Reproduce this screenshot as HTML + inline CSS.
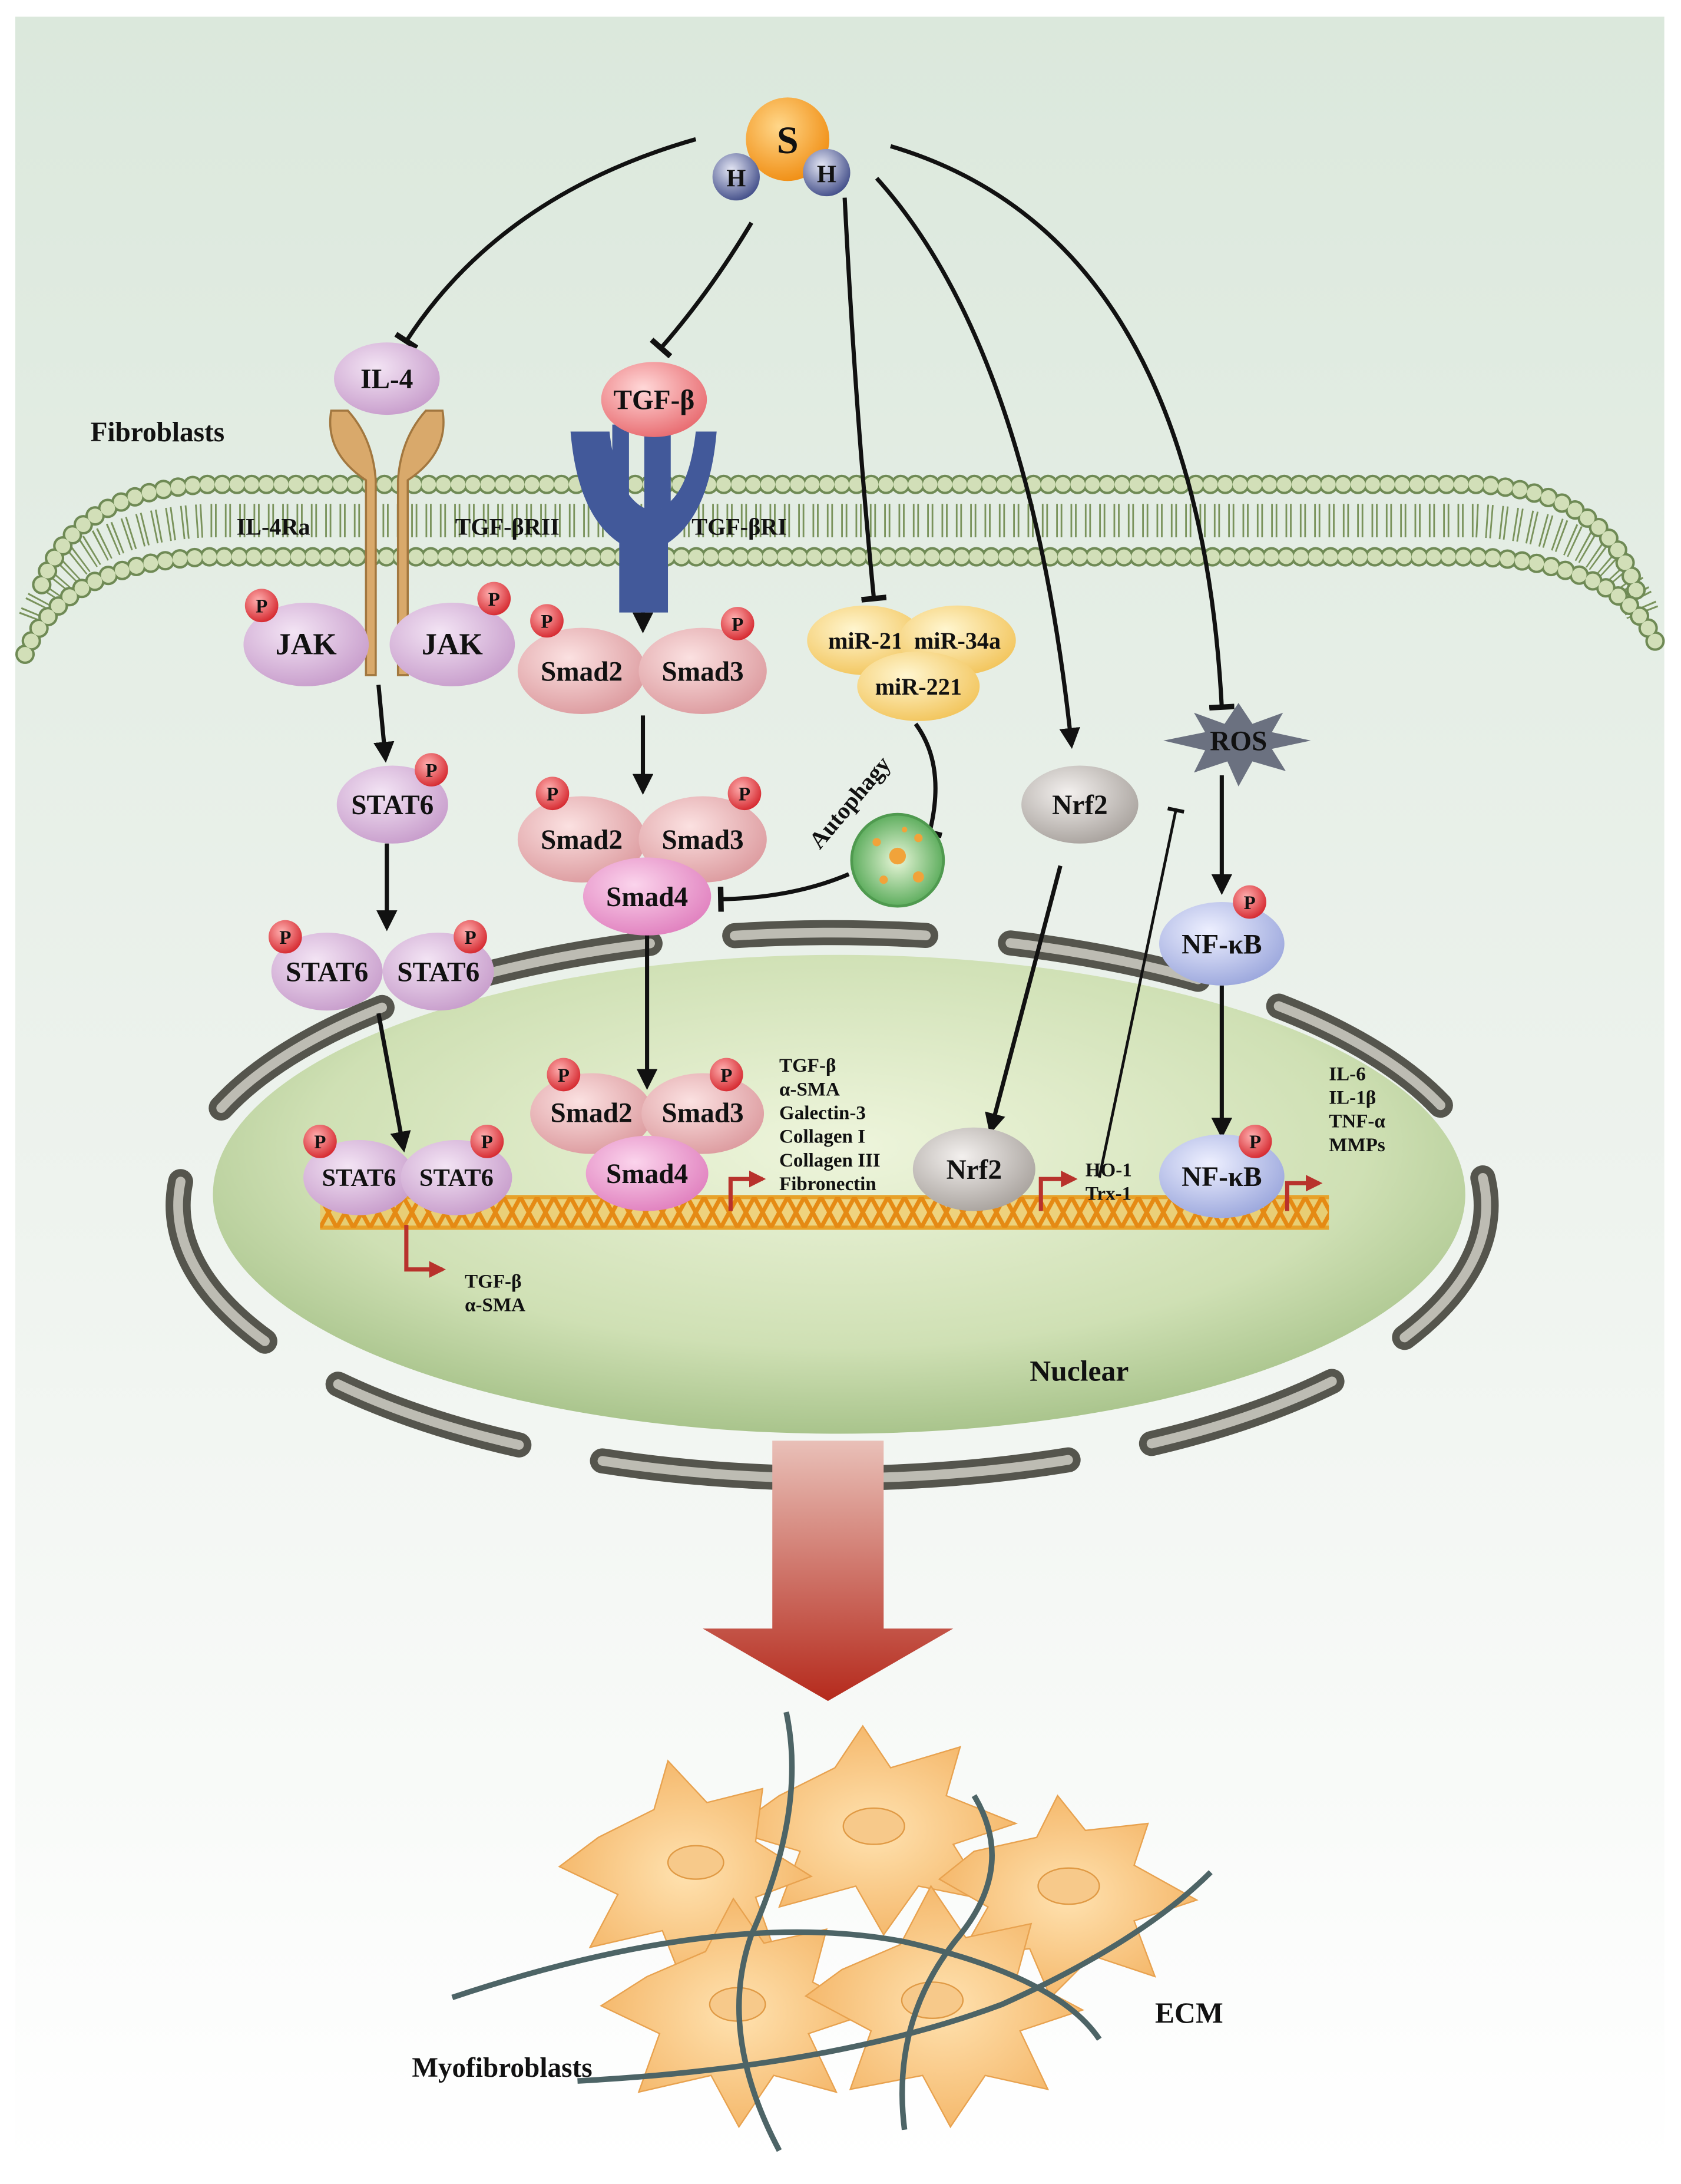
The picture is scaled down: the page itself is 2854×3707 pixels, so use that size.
<!DOCTYPE html>
<html><head><meta charset="utf-8">
<style>html,body{margin:0;padding:0;background:#fff}svg{display:block}text{font-family:"Liberation Serif",serif;font-weight:bold}</style>
</head><body>
<svg width="2854" height="3707" viewBox="0 0 1208 1569" xmlns="http://www.w3.org/2000/svg">
<defs>
<linearGradient id="bg" x1="0" y1="0" x2="0" y2="1"><stop offset="0" stop-color="#dbe8dc"/><stop offset="0.55" stop-color="#eef3ee"/><stop offset="1" stop-color="#ffffff"/></linearGradient>
<radialGradient id="nuc" cx="0.5" cy="0.4" r="0.6"><stop offset="0" stop-color="#eef5dc"/><stop offset="0.7" stop-color="#cfe0b4"/><stop offset="1" stop-color="#a9c48c"/></radialGradient>
<radialGradient id="pur" cx="0.4" cy="0.35" r="0.7"><stop offset="0" stop-color="#f3e4f4"/><stop offset="1" stop-color="#c79ccb"/></radialGradient>
<radialGradient id="pink" cx="0.4" cy="0.35" r="0.7"><stop offset="0" stop-color="#fbe1e1"/><stop offset="1" stop-color="#dc9a9e"/></radialGradient>
<radialGradient id="mag" cx="0.4" cy="0.35" r="0.7"><stop offset="0" stop-color="#fbd4ec"/><stop offset="1" stop-color="#e07fbe"/></radialGradient>
<radialGradient id="red" cx="0.4" cy="0.35" r="0.7"><stop offset="0" stop-color="#ffd8d8"/><stop offset="1" stop-color="#e8696e"/></radialGradient>
<radialGradient id="yel" cx="0.4" cy="0.35" r="0.7"><stop offset="0" stop-color="#fff6d0"/><stop offset="1" stop-color="#f2c45a"/></radialGradient>
<radialGradient id="gray" cx="0.4" cy="0.35" r="0.7"><stop offset="0" stop-color="#f3f0ee"/><stop offset="1" stop-color="#a7a19c"/></radialGradient>
<radialGradient id="blue" cx="0.4" cy="0.35" r="0.7"><stop offset="0" stop-color="#eef0ff"/><stop offset="1" stop-color="#9aa6dc"/></radialGradient>
<radialGradient id="pc" cx="0.4" cy="0.35" r="0.7"><stop offset="0" stop-color="#ffb0b0"/><stop offset="1" stop-color="#d4242b"/></radialGradient>
<radialGradient id="sg" cx="0.4" cy="0.35" r="0.7"><stop offset="0" stop-color="#ffd78a"/><stop offset="1" stop-color="#f08c10"/></radialGradient>
<radialGradient id="hg" cx="0.4" cy="0.35" r="0.7"><stop offset="0" stop-color="#e4e6f4"/><stop offset="1" stop-color="#3e4a86"/></radialGradient>
<radialGradient id="ag" cx="0.5" cy="0.5" r="0.5"><stop offset="0" stop-color="#e8f6d8"/><stop offset="1" stop-color="#5fae5f"/></radialGradient>
<radialGradient id="cell" cx="0.5" cy="0.5" r="0.6"><stop offset="0" stop-color="#ffe2b0"/><stop offset="1" stop-color="#f3b160"/></radialGradient>
<marker id="ar" viewBox="0 0 10 10" refX="8" refY="5" markerWidth="5" markerHeight="5" orient="auto"><path d="M0,0L10,5L0,10z" fill="#111"/></marker>
<marker id="tb" viewBox="0 0 10 10" refX="5" refY="5" markerWidth="6" markerHeight="6" orient="auto"><path d="M5,0V10" stroke="#111" stroke-width="2.2"/></marker>
<marker id="rar" viewBox="0 0 10 10" refX="8" refY="5" markerWidth="4" markerHeight="4" orient="auto"><path d="M0,0L10,5L0,10z" fill="#b8322c"/></marker>
<pattern id="dna" x="230" y="860" width="12" height="22" patternUnits="userSpaceOnUse"><path d="M0,0 L12,22 M12,0 L0,22" stroke="#e58a14" stroke-width="3"/></pattern>
<linearGradient id="ra" x1="0" y1="0" x2="0" y2="1"><stop offset="0" stop-color="#e9c0b8"/><stop offset="1" stop-color="#b52a1c"/></linearGradient>
</defs>
<rect width="1208" height="1569" fill="#fff"/>
<rect x="11" y="12" width="1185" height="1545" fill="url(#bg)"/>

<!-- membrane -->
<g fill="none">
<path d="M25,445 Q50,378 150,374 L1060,374 Q1160,378 1182,445" stroke="#7a935c" stroke-width="24" stroke-dasharray="1.2 2 1.2 5.9"/>
<path d="M30,420 Q55,352 150,348 L1060,348 Q1155,352 1176,425" stroke="#6f8a55" stroke-width="14" stroke-linecap="round" stroke-dasharray="0 10.6"/>
<path d="M30,420 Q55,352 150,348 L1060,348 Q1155,352 1176,425" stroke="#d2dfb8" stroke-width="10.5" stroke-linecap="round" stroke-dasharray="0 10.6"/>
<path d="M18,470 Q45,404 150,400 L1060,400 Q1165,404 1190,462" stroke="#6f8a55" stroke-width="14" stroke-linecap="round" stroke-dasharray="0 10.6"/>
<path d="M18,470 Q45,404 150,400 L1060,400 Q1165,404 1190,462" stroke="#d2dfb8" stroke-width="10.5" stroke-linecap="round" stroke-dasharray="0 10.6"/>
</g>

<!-- nucleus -->
<ellipse cx="603" cy="858" rx="450" ry="172" fill="url(#nuc)"/>
<ellipse cx="598" cy="866" rx="470" ry="196" fill="none" stroke="#55554d" stroke-width="18" stroke-linecap="round" pathLength="100" stroke-dasharray="6.3 2.8" stroke-dashoffset="1"/>
<ellipse cx="598" cy="866" rx="470" ry="196" fill="none" stroke="#bdbcb3" stroke-width="7" stroke-linecap="round" pathLength="100" stroke-dasharray="6.3 2.8" stroke-dashoffset="1"/>

<!-- DNA -->
<rect x="230" y="860" width="725" height="22" fill="#f7c24a" opacity="0.6"/>
<path d="M230,860 L955,860 M230,882 L955,882" stroke="#e7a22a" stroke-width="3"/>
<rect x="230" y="860" width="725" height="22" fill="url(#dna)"/>

<!-- connectors -->
<g fill="none" stroke="#111" stroke-width="3">
<path d="M500,100 Q360,140 292,245" marker-end="url(#tb)"/>
<path d="M540,160 Q510,210 475,250" marker-end="url(#tb)"/>
<path d="M607,142 Q615,300 628,430" marker-end="url(#tb)"/>
<path d="M630,128 Q740,250 770,535" marker-end="url(#ar)"/>
<path d="M640,105 Q860,170 878,508" marker-end="url(#tb)"/>
<path d="M272,492 L277,545" marker-end="url(#ar)"/>
<path d="M278,606 L278,666" marker-end="url(#ar)"/>
<path d="M272,728 L290,825" marker-end="url(#ar)"/>
<path d="M462,395 L462,452" marker-end="url(#ar)"/>
<path d="M462,514 L462,568" marker-end="url(#ar)"/>
<path d="M465,670 L465,780" marker-end="url(#ar)"/>
<path d="M762,622 L712,812" marker-end="url(#ar)"/>
<path d="M878,557 L878,640" marker-end="url(#ar)"/>
<path d="M878,708 L878,815" marker-end="url(#ar)"/>
<path d="M790,846 L845,582" stroke-width="2" marker-end="url(#tb)"/>
<path d="M658,520 Q680,550 668,598" marker-end="url(#tb)"/>
<path d="M610,628 Q570,645 518,646" marker-end="url(#tb)"/>
</g>

<!-- promoter arrows -->
<g fill="none" stroke="#b8322c" stroke-width="3">
<path d="M525,870 V847 H548" marker-end="url(#rar)"/>
<path d="M748,870 V847 H772" marker-end="url(#rar)"/>
<path d="M925,870 V850 H948" marker-end="url(#rar)"/>
<path d="M292,880 V912 H318" marker-end="url(#rar)"/>
</g>

<!-- H2S -->
<circle cx="566" cy="100" r="30" fill="url(#sg)"/>
<circle cx="529" cy="127" r="17" fill="url(#hg)"/>
<circle cx="594" cy="124" r="17" fill="url(#hg)"/>
<text x="566" y="110" font-size="28" text-anchor="middle" fill="#111">S</text>
<text x="529" y="134" font-size="18" text-anchor="middle" fill="#111">H</text>
<text x="594" y="131" font-size="18" text-anchor="middle" fill="#111">H</text>

<!-- IL-4 receptor -->
<g fill="#d9a96b" stroke="#a2773f" stroke-width="1.5">
<path d="M238,295 q-5,30 25,50 v140 h7 v-140 q-2,-30 -20,-50z"/>
<path d="M318,295 q5,30 -25,50 v140 h-7 v-140 q2,-30 20,-50z"/>
</g>
<!-- TGF receptor -->
<g fill="#42599a">
<path d="M410,310 q5,60 35,80 v50 h35 v-50 q30,-20 35,-80 l-15,0 q-5,45 -25,55 v-55 h-12 v55 q-20,-10 -25,-55z"/>
<path d="M440,305 h12 v60 h-12z M470,305 h12 v60 h-12z"/>
</g>

<!-- nodes -->
<g font-size="20" text-anchor="middle" fill="#111">
<ellipse cx="278" cy="272" rx="38" ry="26" fill="url(#pur)"/><text x="278" y="279">IL-4</text>
<ellipse cx="470" cy="287" rx="38" ry="27" fill="url(#red)"/><text x="470" y="294">TGF-β</text>
<ellipse cx="220" cy="463" rx="45" ry="30" fill="url(#pur)"/><text x="220" y="470" font-size="22">JAK</text>
<ellipse cx="325" cy="463" rx="45" ry="30" fill="url(#pur)"/><text x="325" y="470" font-size="22">JAK</text>
<ellipse cx="418" cy="482" rx="46" ry="31" fill="url(#pink)"/><text x="418" y="489">Smad2</text>
<ellipse cx="505" cy="482" rx="46" ry="31" fill="url(#pink)"/><text x="505" y="489">Smad3</text>
<ellipse cx="622" cy="460" rx="42" ry="25" fill="url(#yel)"/><text x="622" y="466" font-size="17">miR-21</text>
<ellipse cx="688" cy="460" rx="42" ry="25" fill="url(#yel)"/><text x="688" y="466" font-size="17">miR-34a</text>
<ellipse cx="660" cy="493" rx="44" ry="25" fill="url(#yel)"/><text x="660" y="499" font-size="17">miR-221</text>
<ellipse cx="776" cy="578" rx="42" ry="28" fill="url(#gray)"/><text x="776" y="585">Nrf2</text>
<path d="M890,505 l10,15 22,-8 -8,14 28,6 -28,6 10,16 -24,-7 -10,18 -8,-18 -24,8 8,-16 -30,-7 30,-6 -8,-14 22,8z" fill="#6b7180"/>
<text x="890" y="539" fill="#111">ROS</text>
<ellipse cx="282" cy="578" rx="40" ry="28" fill="url(#pur)"/><text x="282" y="585">STAT6</text>
<ellipse cx="418" cy="603" rx="46" ry="31" fill="url(#pink)"/><text x="418" y="610">Smad2</text>
<ellipse cx="505" cy="603" rx="46" ry="31" fill="url(#pink)"/><text x="505" y="610">Smad3</text>
<ellipse cx="465" cy="644" rx="46" ry="28" fill="url(#mag)"/><text x="465" y="651">Smad4</text>
<circle cx="645" cy="618" r="33" fill="url(#ag)" stroke="#4f9a4f" stroke-width="2"/>
<g fill="#f1a33a"><circle cx="645" cy="615" r="6"/><circle cx="630" cy="605" r="3"/><circle cx="660" cy="602" r="3"/><circle cx="635" cy="632" r="3"/><circle cx="660" cy="630" r="4"/><circle cx="650" cy="596" r="2"/></g>
<text x="615" y="580" font-size="17" transform="rotate(-50 615 580)">Autophagy</text>
<ellipse cx="235" cy="698" rx="40" ry="28" fill="url(#pur)"/><text x="235" y="705">STAT6</text>
<ellipse cx="315" cy="698" rx="40" ry="28" fill="url(#pur)"/><text x="315" y="705">STAT6</text>
<ellipse cx="878" cy="678" rx="45" ry="30" fill="url(#blue)"/><text x="878" y="685">NF-κB</text>
<ellipse cx="258" cy="846" rx="40" ry="27" fill="url(#pur)"/><text x="258" y="852" font-size="18">STAT6</text>
<ellipse cx="328" cy="846" rx="40" ry="27" fill="url(#pur)"/><text x="328" y="852" font-size="18">STAT6</text>
<ellipse cx="425" cy="800" rx="44" ry="29" fill="url(#pink)"/><text x="425" y="806">Smad2</text>
<ellipse cx="505" cy="800" rx="44" ry="29" fill="url(#pink)"/><text x="505" y="806">Smad3</text>
<ellipse cx="465" cy="843" rx="44" ry="27" fill="url(#mag)"/><text x="465" y="850">Smad4</text>
<ellipse cx="700" cy="840" rx="44" ry="30" fill="url(#gray)"/><text x="700" y="847">Nrf2</text>
<ellipse cx="878" cy="845" rx="45" ry="30" fill="url(#blue)"/><text x="878" y="852">NF-κB</text>
</g>

<!-- P circles -->
<g font-size="14" text-anchor="middle" fill="#111">
<g><circle cx="188" cy="435" r="12" fill="url(#pc)"/><text x="188" y="440">P</text></g>
<g><circle cx="355" cy="430" r="12" fill="url(#pc)"/><text x="355" y="435">P</text></g>
<g><circle cx="393" cy="446" r="12" fill="url(#pc)"/><text x="393" y="451">P</text></g>
<g><circle cx="530" cy="448" r="12" fill="url(#pc)"/><text x="530" y="453">P</text></g>
<g><circle cx="310" cy="553" r="12" fill="url(#pc)"/><text x="310" y="558">P</text></g>
<g><circle cx="397" cy="570" r="12" fill="url(#pc)"/><text x="397" y="575">P</text></g>
<g><circle cx="535" cy="570" r="12" fill="url(#pc)"/><text x="535" y="575">P</text></g>
<g><circle cx="205" cy="673" r="12" fill="url(#pc)"/><text x="205" y="678">P</text></g>
<g><circle cx="338" cy="673" r="12" fill="url(#pc)"/><text x="338" y="678">P</text></g>
<g><circle cx="898" cy="648" r="12" fill="url(#pc)"/><text x="898" y="653">P</text></g>
<g><circle cx="230" cy="820" r="12" fill="url(#pc)"/><text x="230" y="825">P</text></g>
<g><circle cx="350" cy="820" r="12" fill="url(#pc)"/><text x="350" y="825">P</text></g>
<g><circle cx="405" cy="772" r="12" fill="url(#pc)"/><text x="405" y="777">P</text></g>
<g><circle cx="522" cy="772" r="12" fill="url(#pc)"/><text x="522" y="777">P</text></g>
<g><circle cx="902" cy="820" r="12" fill="url(#pc)"/><text x="902" y="825">P</text></g>
</g>

<!-- labels -->
<g fill="#111">
<text x="65" y="317" font-size="20">Fibroblasts</text>
<text x="170" y="384" font-size="17">IL-4Ra</text>
<text x="327" y="384" font-size="17">TGF-βRII</text>
<text x="497" y="384" font-size="17">TGF-βRI</text>
<g font-size="14">
<text x="560" y="770">TGF-β</text><text x="560" y="787">α-SMA</text><text x="560" y="804">Galectin-3</text>
<text x="560" y="821">Collagen I</text><text x="560" y="838">Collagen III</text><text x="560" y="855">Fibronectin</text>
<text x="780" y="845">HO-1</text><text x="780" y="862">Trx-1</text>
<text x="955" y="776">IL-6</text><text x="955" y="793">IL-1β</text><text x="955" y="810">TNF-α</text><text x="955" y="827">MMPs</text>
<text x="334" y="925">TGF-β</text><text x="334" y="942">α-SMA</text>
</g>
<text x="740" y="992" font-size="21">Nuclear</text>
<text x="830" y="1453" font-size="21">ECM</text>
<text x="296" y="1492" font-size="20">Myofibroblasts</text>
</g>

<!-- big arrow -->
<path d="M555,1035 H635 V1170 H685 L595,1222 L505,1170 H555z" fill="url(#ra)"/>

<!-- myofibroblasts -->
<g fill="url(#cell)" stroke="#e8a24f" stroke-width="1">
<path d="M560,1290 l40,-20 20,-30 20,30 50,-15 -10,35 50,20 -45,15 25,40 -50,-10 -25,35 -20,-35 -55,15 15,-40 -50,-15z"/>
<path d="M700,1330 l45,-10 15,-30 20,25 45,-5 -10,30 45,25 -45,15 15,40 -45,-15 -30,30 -15,-35 -50,5 20,-35 -35,-20z"/>
<path d="M430,1320 l40,-20 10,-35 28,30 40,-10 -5,38 40,25 -40,15 15,42 -42,-12 -25,32 -15,-38 -52,12 20,-38 -42,-20z"/>
<path d="M465,1420 l42,-18 20,-38 22,32 45,-10 -10,38 42,22 -45,15 20,42 -45,-12 -25,37 -20,-37 -52,12 15,-42 -42,-20z"/>
<path d="M605,1415 l42,-18 22,-42 25,37 47,-10 -10,37 47,25 -45,15 20,42 -45,-10 -25,37 -20,-37 -52,10 15,-42 -47,-25z"/>
</g>
<g fill="#f7c98a" stroke="#e09a45"><ellipse cx="628" cy="1312" rx="22" ry="13"/><ellipse cx="768" cy="1355" rx="22" ry="13"/><ellipse cx="500" cy="1338" rx="20" ry="12"/><ellipse cx="530" cy="1440" rx="20" ry="12"/><ellipse cx="670" cy="1437" rx="22" ry="13"/></g>
<g fill="none" stroke="#4d6466" stroke-width="4">
<path d="M325,1435 Q520,1370 650,1395 Q760,1420 790,1465"/>
<path d="M565,1230 Q580,1300 540,1390 Q515,1460 560,1545"/>
<path d="M415,1495 Q600,1485 720,1440 Q820,1395 870,1345"/>
<path d="M650,1530 Q640,1450 690,1390 Q730,1340 700,1290"/>
</g>
</svg>
</body></html>
